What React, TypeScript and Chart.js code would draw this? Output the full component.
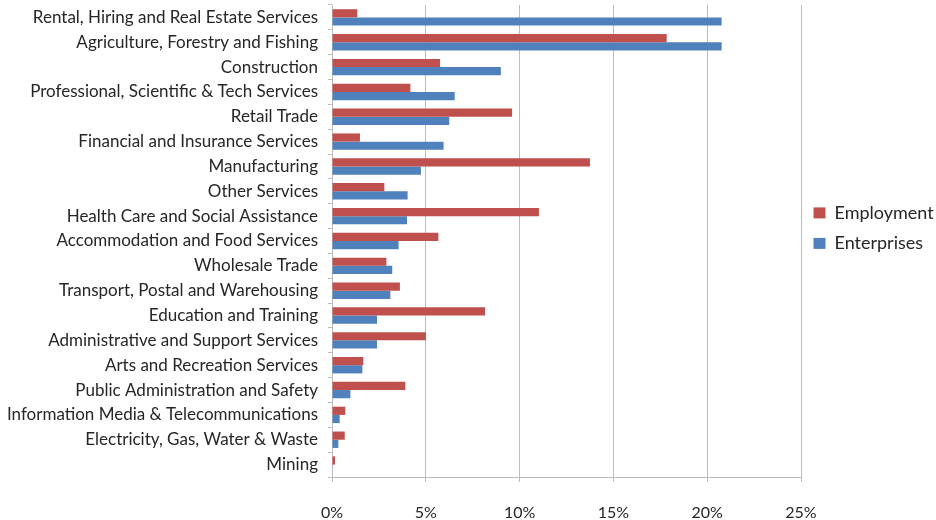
import React, { useEffect, useRef } from 'react';
import { Chart, registerables } from 'chart.js';

Chart.register(...registerables);

const categories = [
  'Rental, Hiring and Real Estate Services',
  'Agriculture, Forestry and Fishing',
  'Construction',
  'Professional, Scientific & Tech Services',
  'Retail Trade',
  'Financial and Insurance Services',
  'Manufacturing',
  'Other Services',
  'Health Care and Social Assistance',
  'Accommodation and Food Services',
  'Wholesale Trade',
  'Transport, Postal and Warehousing',
  'Education and Training',
  'Administrative and Support Services',
  'Arts and Recreation Services',
  'Public Administration and Safety',
  'Information Media & Telecommunications',
  'Electricity, Gas, Water & Waste',
  'Mining',
];

const employment = [1.35, 17.84, 5.76, 4.18, 9.6, 1.49, 13.75, 2.79, 11.03, 5.67, 2.9, 3.62, 8.16, 5.01, 1.67, 3.91, 0.71, 0.68, 0.16];
const enterprises = [20.77, 20.77, 9.0, 6.54, 6.25, 5.95, 4.74, 4.03, 4.0, 3.55, 3.21, 3.11, 2.4, 2.4, 1.62, 0.98, 0.41, 0.34, 0.03];

const xMin = 0;
const xMax = 25;
const xStep = 5;

const FONT = 'Lato, "Open Sans", "DejaVu Sans", sans-serif';
const TEXT = '#262626';
const GRID = '#BDBDBD';

export default function App() {
  const ref = useRef<HTMLCanvasElement>(null);

  useEffect(() => {
    document.body.style.margin = '0';
    const chart = new Chart(ref.current!, {
      type: 'bar',
      data: {
        labels: categories,
        datasets: [
          {
            label: 'Employment',
            data: employment,
            backgroundColor: '#C0504D',
            categoryPercentage: 0.66,
            barPercentage: 1,
          },
          {
            label: 'Enterprises',
            data: enterprises,
            backgroundColor: '#4F81BD',
            categoryPercentage: 0.66,
            barPercentage: 1,
          },
        ],
      },
      options: {
        indexAxis: 'y',
        responsive: false,
        animation: false,
        layout: { padding: { top: 5, left: 0, right: 0, bottom: 0 } },
        scales: {
          x: {
            min: xMin,
            max: xMax,
            ticks: {
              stepSize: xStep,
              callback: (v: any) => v + '%',
              padding: 21,
              color: TEXT,
              font: { family: FONT, size: 16 },
            },
            grid: { color: GRID, tickLength: 5 },
            border: { color: GRID },
            afterFit: (s: any) => {
              s.height = 43;
            },
          },
          y: {
            ticks: {
              autoSkip: false,
              padding: 10,
              color: TEXT,
              font: { family: FONT, size: 17 },
            },
            grid: { drawOnChartArea: false, tickLength: 4, color: GRID },
            border: { color: GRID },
            afterFit: (s: any) => {
              s.width = 332;
              s.paddingTop = 0;
              s.paddingBottom = 0;
            },
          },
        },
        plugins: {
          legend: {
            position: 'right',
            align: 'start',
            maxWidth: 135,
            title: { display: true, text: ' ', padding: { top: 172, bottom: 0 } },
            labels: {
              boxWidth: 12,
              boxHeight: 11,
              padding: 12.5,
              color: TEXT,
              font: { family: FONT, size: 18 },
            },
          },
          tooltip: { enabled: false },
        },
      },
    });
    return () => chart.destroy();
  }, []);

  return <canvas ref={ref} width={936} height={520} style={{ display: 'block' }} />;
}
